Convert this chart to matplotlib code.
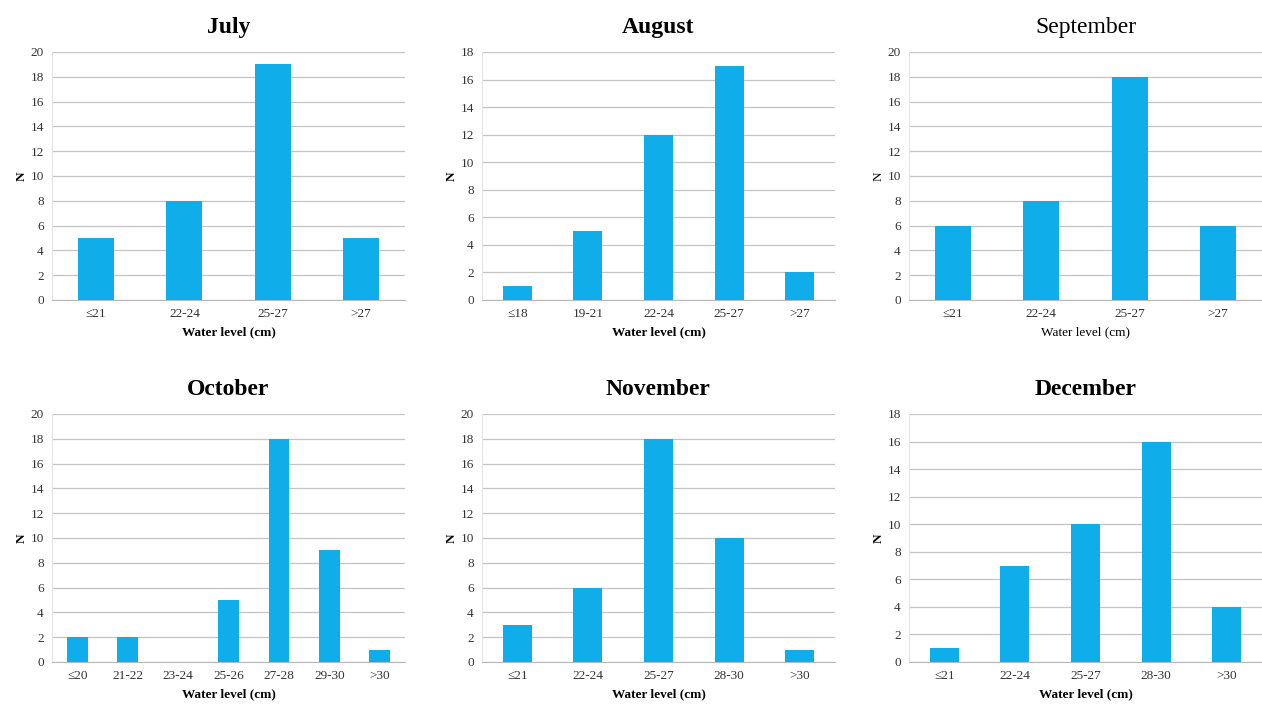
import matplotlib
matplotlib.use("Agg")
import matplotlib.pyplot as plt

plt.rcParams['font.family'] = ['Liberation Serif', 'DejaVu Serif']

# data
months = ["July", "August", "September", "October", "November", "December"]
july_labels = ["≤21", "22-24", "25-27", ">27"]
july_vals = [5, 8, 19, 5]
aug_labels = ["≤18", "19-21", "22-24", "25-27", ">27"]
aug_vals = [1, 5, 12, 17, 2]
sep_labels = ["≤21", "22-24", "25-27", ">27"]
sep_vals = [6, 8, 18, 6]
oct_labels = ["≤20", "21-22", "23-24", "25-26", "27-28", "29-30", ">30"]
oct_vals = [2, 2, 0, 5, 18, 9, 1]
nov_labels = ["≤21", "22-24", "25-27", "28-30", ">30"]
nov_vals = [3, 6, 18, 10, 1]
dec_labels = ["≤21", "22-24", "25-27", "28-30", ">30"]
dec_vals = [1, 7, 10, 16, 4]
ymax = [20, 18, 20, 20, 20, 18]
bold = [True, True, False, True, True, True]

all_labels = [july_labels, aug_labels, sep_labels, oct_labels, nov_labels, dec_labels]
all_vals = [july_vals, aug_vals, sep_vals, oct_vals, nov_vals, dec_vals]

W, H = 1262, 707
fig = plt.figure(figsize=(W / 100, H / 100), dpi=100)

lefts = [52, 482, 909]
tops = [52, 414]
aw, ah = 353, 248
bar_color = "#0FADEA"

for i in range(6):
    r, c = divmod(i, 3)
    ax = fig.add_axes([lefts[c] / W, (H - tops[r] - ah) / H, aw / W, ah / H])
    labels = all_labels[i]
    vals = all_vals[i]
    x = range(len(labels))
    ax.bar(x, vals, width=0.41, color=bar_color, zorder=3)
    ax.set_xlim(-0.5, len(labels) - 0.5)
    ax.set_ylim(0, ymax[i])
    ax.set_yticks(range(0, ymax[i] + 1, 2))
    ax.set_xticks(list(x))
    ax.set_xticklabels(labels, fontsize=9.5, color="#333333")
    ax.tick_params(axis='y', labelsize=9.5, length=0, pad=6, colors="#333333")
    ax.tick_params(axis='x', length=0, pad=6)
    ax.grid(axis='y', color="#c4c4c4", linewidth=0.9, zorder=0)
    for s in ['top', 'right']:
        ax.spines[s].set_visible(False)
    ax.spines['left'].set_color("#e4e4e4")
    ax.spines['bottom'].set_color("#b8b8b8")
    w = 'bold' if bold[i] else 'normal'
    ax.set_title(months[i], fontsize=17, fontweight=w, pad=14)
    ax.set_xlabel("Water level (cm)", fontsize=9.5, fontweight=w, labelpad=4)
    ax.set_ylabel("N", fontsize=9.5, fontweight=w, labelpad=2)

fig.savefig("out.png", dpi=100)
